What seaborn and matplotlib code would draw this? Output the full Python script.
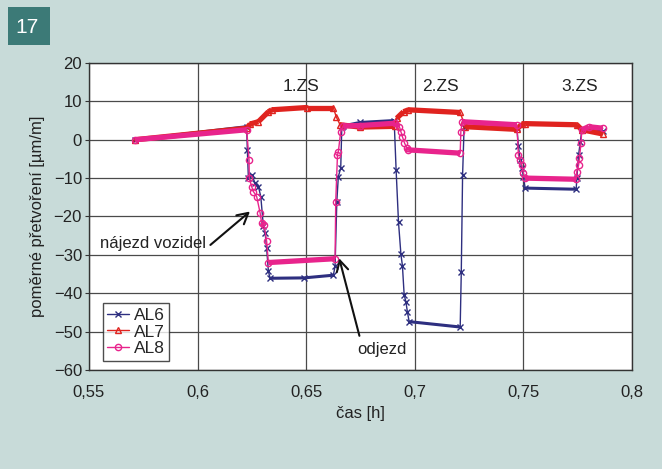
import numpy as np
import pandas as pd
import seaborn as sns
import matplotlib.pyplot as plt
from matplotlib.patches import Rectangle

# data
al6_x = [0.5712, 0.6226, 0.6229, 0.6234, 0.6249, 0.6265, 0.6280, 0.6291, 0.6303, 0.6311,
         0.6318, 0.6326, 0.6334, 0.6490, 0.6625, 0.6633, 0.6641, 0.6648, 0.6659, 0.6664,
         0.6670, 0.6748, 0.6905, 0.6914, 0.6925, 0.6936, 0.6943, 0.6951, 0.6959, 0.6966,
         0.6974, 0.7209, 0.7214, 0.7220, 0.7227, 0.7470, 0.7477, 0.7485, 0.7493, 0.7500,
         0.7508, 0.7743, 0.7746, 0.7754, 0.7762, 0.7769, 0.7866]
al6_y = [0.0, 3.4, -2.6, -10.0, -9.2, -11.3, -12.2, -14.8, -22.6, -24.3,
         -28.3, -34.3, -36.1, -36.0, -35.3, -33.0, -16.1, -9.6, -7.4, 3.4,
         3.6, 4.5, 5.0, -7.9, -21.5, -29.8, -32.8, -40.4, -42.2, -44.9,
         -47.4, -48.8, -34.5, -9.3, 3.4, 3.0, -1.6, -5.3, -7.4, -9.6,
         -12.6, -12.9, -10.0, -4.0, -0.5, 2.6, 2.3]

al7_x = [0.5712, 0.6226, 0.6242, 0.6280, 0.6326, 0.6341, 0.6503, 0.6625, 0.6638, 0.6656,
         0.6748, 0.6909, 0.6917, 0.6948, 0.6971, 0.7209, 0.7224, 0.7232, 0.7470, 0.7493,
         0.7508, 0.7746, 0.7769, 0.7866]
al7_y = [0.0, 3.0, 4.1, 4.7, 7.3, 7.8, 8.4, 8.4, 6.0, 3.9,
         3.3, 3.5, 5.6, 7.3, 7.8, 7.1, 4.7, 3.4, 2.7, 4.1,
         4.2, 3.9, 2.6, 1.5]

al8_x = [0.5712, 0.6226, 0.6237, 0.6238, 0.6249, 0.6257, 0.6272, 0.6288, 0.6295, 0.6306,
         0.6318, 0.6326, 0.6633, 0.6636, 0.6644, 0.6648, 0.6659, 0.6670, 0.6748, 0.6909,
         0.6929, 0.6936, 0.6943, 0.6952, 0.6963, 0.6971, 0.7209, 0.7212, 0.7218, 0.7470,
         0.7477, 0.7485, 0.7493, 0.7500, 0.7508, 0.7743, 0.7746, 0.7754, 0.7758, 0.7765,
         0.7769, 0.7800, 0.7866]
al8_y = [0.0, 2.6, -5.3, -10.0, -12.2, -13.5, -14.8, -19.1, -21.7, -22.2,
         -26.5, -32.0, -31.0, -16.1, -4.0, -3.1, 2.1, 3.6, 3.7, 4.3,
         3.4, 2.1, 0.8, -0.75, -2.2, -2.65, -3.5, 2.1, 4.7, 3.9,
         -4.0, -5.3, -6.6, -8.7, -10.0, -10.3, -8.3, -6.6, -4.8, -0.9,
         2.6, 3.4, 3.0]

x_ticks = [0.55, 0.6, 0.65, 0.7, 0.75, 0.8]
x_labels = ["0,55", "0,6", "0,65", "0,7", "0,75", "0,8"]
y_ticks = [20, 10, 0, -10, -20, -30, -40, -50, -60]

bg = "#c8dbd9"
sns.set_style("white")
plt.rcParams["font.family"] = ["Liberation Sans", "DejaVu Sans"]

fig = plt.figure(figsize=(6.62, 4.69), dpi=100, facecolor=bg)
ax = fig.add_axes([0.1344, 0.2111, 0.8203, 0.6546])

series = [
    ("AL6", al6_x, al6_y, "#2e2f80", "x", 2.2, dict(markersize=4, markeredgewidth=1.0)),
    ("AL7", al7_x, al7_y, "#e0231f", "^", 3.8, dict(markersize=4.5, markerfacecolor="none", markeredgewidth=1.0)),
    ("AL8", al8_x, al8_y, "#e8248c", "o", 3.8, dict(markersize=4.5, markerfacecolor="none", markeredgewidth=1.0)),
]

for name, xs, ys, col, mk, band, mkw in series:
    x = np.array(xs)
    y = np.array(ys)
    sns.lineplot(x=x, y=y, ax=ax, color=col, marker=mk, markeredgecolor=col,
                 lw=1.0, sort=False, estimator=None, label=name, **mkw)
    # dense-sample bands on the flat parts
    slope = np.abs(np.diff(y) * 3.84) / np.maximum(np.abs(np.diff(x) * 2171), 1e-9)
    rows = []
    for i in np.where(slope < 1.5)[0]:
        rows.append((x[i], y[i], i))
        rows.append((x[i + 1], y[i + 1], i))
    seg = pd.DataFrame(rows, columns=["x", "y", "seg"])
    sns.lineplot(data=seg, x="x", y="y", units="seg", estimator=None, sort=False,
                 ax=ax, color=col, lw=band, legend=False, solid_capstyle="butt")

ax.set_xlim(0.55, 0.8)
ax.set_ylim(-60, 20)
ax.set_xticks(x_ticks)
ax.set_xticklabels(x_labels)
ax.set_yticks(y_ticks)
ax.grid(True, color="#4a4a4a", lw=0.9)
ax.set_axisbelow(True)
for s in ax.spines.values():
    s.set_color("#333333")
    s.set_linewidth(1.0)
ax.tick_params(axis="y", length=3, width=0.8, pad=2, labelsize=12, left=True,
               color="#333333", labelcolor="#222222")
ax.tick_params(axis="x", length=0, pad=11, labelsize=12, labelcolor="#222222")
ax.set_xlabel("čas [h]", fontsize=12, labelpad=4, color="#222222")
ax.set_ylabel("poměrné přetvoření [µm/m]", fontsize=12, labelpad=6, color="#222222")

ax.text(0.6476, 13.8, "1.ZS", fontsize=12.5, ha="center", va="center", color="#222222")
ax.text(0.7120, 13.8, "2.ZS", fontsize=12.5, ha="center", va="center", color="#222222")
ax.text(0.7760, 13.8, "3.ZS", fontsize=12.5, ha="center", va="center", color="#222222")

arrow = dict(arrowstyle="->,head_length=0.55,head_width=0.3", color="#111111", lw=1.5,
             shrinkB=0, mutation_scale=14)
ax.annotate("nájezd vozidel", xy=(0.6241, -18.7), xytext=(0.5551, -27.0),
            fontsize=12, va="center", ha="left", color="#222222",
            arrowprops=dict(arrow, shrinkA=1, relpos=(1.0, 0.15)))
ax.annotate("odjezd", xy=(0.6652, -30.9), xytext=(0.6734, -54.6),
            fontsize=12, va="center", ha="left", color="#222222",
            arrowprops=dict(arrow, shrinkA=2, relpos=(0.08, 1.0)))

leg = ax.legend(loc="lower left", bbox_to_anchor=(0.025, 0.03), fontsize=12.5,
                frameon=True, fancybox=False, handlelength=1.3, handletextpad=0.25,
                borderpad=0.25, labelspacing=0.1, borderaxespad=0)
leg.get_frame().set_edgecolor("#222222")
leg.get_frame().set_linewidth(1.0)

# figure number badge
fig.patches.append(Rectangle((0.0121, 0.904), 0.0634, 0.081, transform=fig.transFigure,
                             facecolor="#3c7a77", edgecolor="none"))
fig.text(0.0415, 0.942, "17", color="white", fontsize=15, ha="center", va="center")

fig.savefig("out.png", dpi=100, facecolor=bg)
